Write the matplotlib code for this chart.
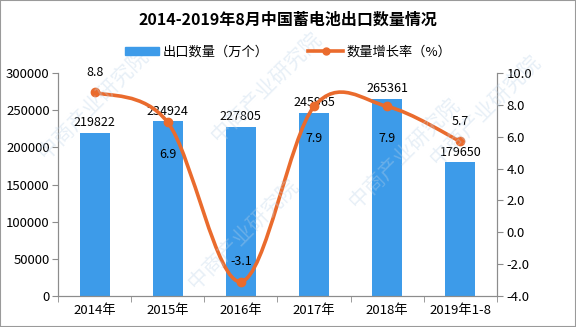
import numpy as np
import matplotlib.pyplot as plt
from matplotlib.path import Path
from matplotlib.patches import PathPatch, Rectangle
from matplotlib.lines import Line2D
from matplotlib.transforms import IdentityTransform

plt.rcParams['font.family'] = ['Noto Sans CJK SC', 'DejaVu Sans']

years = ['2014年', '2015年', '2016年', '2017年', '2018年', '2019年1-8']
exports = [219822, 234924, 227805, 245965, 265361, 179650]
growth = [8.8, 6.9, -3.1, 7.9, 7.9, 5.7]
# where each growth label sits relative to its point
growth_pos = ['above', 'below', 'above', 'below', 'below', 'above']

bar_color = '#3d9be9'
line_color = '#ea6b2d'
axis_gray = '#8c8c8c'

fig = plt.figure(figsize=(5.76, 3.27), dpi=100)
ax = fig.add_axes([58 / 576, 1 - 296 / 327, 439 / 576, 223 / 327])
ax2 = ax.twinx()

x = np.arange(len(years))
ax.bar(x, exports, width=0.41, color=bar_color, zorder=2)
ax.set_xlim(-0.5, len(years) - 0.5)
ax.set_ylim(0, 300000)
ax.set_yticks(np.arange(0, 300001, 50000))
ax.set_xticks(x)
ax.set_xticklabels(years)
ax.set_xticks(np.arange(-0.5, len(years), 1), minor=True)
ax.tick_params(axis='x', which='major', length=0, labelsize=9.5, pad=6)
ax.tick_params(axis='x', which='minor', length=4, color=axis_gray)
ax.tick_params(axis='y', length=4, color=axis_gray, labelsize=9.5, pad=2)

ax2.set_ylim(-4, 10)
ax2.set_yticks(np.arange(-4, 10.1, 2))
ax2.set_yticklabels(['%.1f' % v for v in np.arange(-4, 10.1, 2)])
ax2.tick_params(axis='y', length=4, color=axis_gray, labelsize=9.5, pad=3)

for a in (ax, ax2):
    a.spines['top'].set_visible(False)
    for s in ('left', 'right', 'bottom'):
        a.spines[s].set_color(axis_gray)
        a.spines[s].set_linewidth(0.8)

for xi, v in zip(x, exports):
    ax.text(xi, v + 5000, str(v), ha='center', va='bottom', fontsize=9, zorder=5)

# smoothed growth line, Catmull-Rom style bezier in screen space
pts = ax2.transData.transform(np.column_stack([x, growth]))
verts = [pts[0]]
codes = [Path.MOVETO]
n = len(pts)
for i in range(n - 1):
    p0 = pts[i - 1] if i > 0 else pts[i]
    p1 = pts[i]
    p2 = pts[i + 1]
    p3 = pts[i + 2] if i + 2 < n else pts[i + 1]
    c1 = p1 + (p2 - p0) / 6
    c2 = p2 - (p3 - p1) / 6
    verts += [c1, c2, p2]
    codes += [Path.CURVE4] * 3
curve = PathPatch(Path(verts, codes), facecolor='none', edgecolor=line_color,
                  lw=2.6, transform=IdentityTransform(), zorder=4)
ax2.add_patch(curve)
ax2.plot(x, growth, 'o', color=line_color, ms=6, zorder=5)

for xi, g, pos in zip(x, growth, growth_pos):
    dy = 1.25 if pos == 'above' else -2.0
    ax2.text(xi, g + dy, '%.1f' % g, ha='center', va='center', fontsize=9, zorder=6)

# faint diagonal watermark
for wx, wy in [(0.06, 0.50), (0.32, 0.10), (0.36, 0.55), (0.60, 0.35), (0.74, 0.48)]:
    fig.text(wx, wy, '中商产业研究院', fontsize=15, color='#bcd3e8', alpha=0.35,
             rotation=45, ha='left', va='bottom', zorder=0)

fig.text(0.5, 1 - 20 / 327, '2014-2019年8月中国蓄电池出口数量情况', ha='center', va='center',
         fontsize=11.5, fontweight='bold')

handles = [Rectangle((0, 0), 1, 1, color=bar_color),
           Line2D([], [], color=line_color, lw=2.6, marker='o', ms=5)]
fig.legend(handles, ['出口数量（万个）', '数量增长率（%）'], loc='center',
           bbox_to_anchor=(0.5, 1 - 52 / 327), ncol=2, frameon=False, fontsize=9.5,
           handlelength=2.6, handleheight=0.6, columnspacing=3, handletextpad=0.3)

fig.add_artist(Rectangle((0, 0), 1, 1, transform=fig.transFigure, fill=False,
                         edgecolor='#9a9a9a', lw=1.5))

fig.savefig('out.png', dpi=100)
